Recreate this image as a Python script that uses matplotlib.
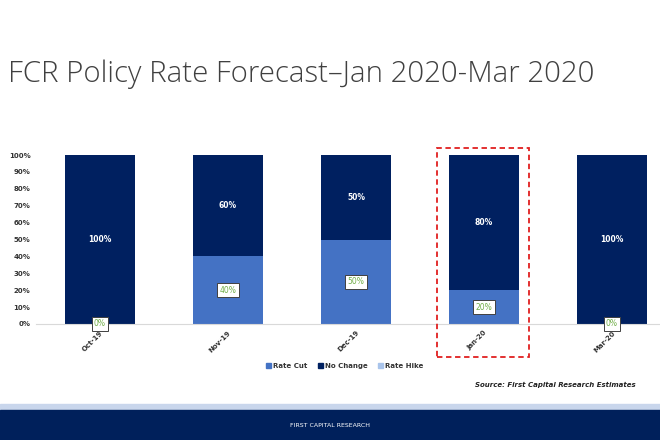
import numpy as np
import matplotlib.pyplot as plt
from matplotlib.patches import Rectangle, Patch

# data
months = ['Oct-19', 'Nov-19', 'Dec-19', 'Jan-20', 'Mar-20']
rate_cut = [0, 40, 50, 20, 0]
no_change = [100, 60, 50, 80, 100]
rate_hike = [0, 0, 0, 0, 0]
highlight = 'Jan-20'

c_cut = '#4472C4'
c_none = '#002060'
c_hike = '#A9C4EB'
navy = '#00205B'

fig = plt.figure(figsize=(6.6, 4.4), dpi=100)
W, H = 660, 440

# axes placed in pixel terms
left, right, top, bottom = 36, 660, 155, 324
ax = fig.add_axes([left / W, 1 - bottom / H, (right - left) / W, (bottom - top) / H])

x = np.arange(len(months))
bw = 0.55
ax.bar(x, rate_cut, bw, color=c_cut)
ax.bar(x, no_change, bw, bottom=rate_cut, color=c_none)
ax.bar(x, rate_hike, bw, bottom=np.add(rate_cut, no_change), color=c_hike)

ax.set_xlim(-0.5, 4.375)
ax.set_ylim(0, 100)
ax.set_yticks(range(0, 101, 10))
ax.set_yticklabels([f'{v}%' for v in range(0, 101, 10)], fontsize=5, fontweight='bold', color='#333333')
ax.set_xticks(x)
ax.set_xticklabels(months, rotation=45, ha='right', rotation_mode='anchor',
                   fontsize=5, fontweight='bold', color='#333333')
ax.tick_params(length=0, pad=4)
for s in ['top', 'right', 'left']:
    ax.spines[s].set_visible(False)
ax.spines['bottom'].set_color('#D9D9D9')
ax.spines['bottom'].set_linewidth(0.8)

# labels
for i in x:
    ax.text(i, rate_cut[i] + no_change[i] / 2, f'{no_change[i]}%', ha='center', va='center',
            fontsize=5.5, fontweight='bold', color='white')
    ax.text(i, rate_cut[i] / 2, f'{rate_cut[i]}%', ha='center', va='center',
            fontsize=5.5, color='#70AD47', clip_on=False,
            bbox=dict(boxstyle='square,pad=0.3', fc='white', ec='#404040', lw=0.7))

# highlight box around Jan-20
hi = months.index(highlight)
ax.add_patch(Rectangle((hi - 0.365, -19.5), 0.72, 123.6, fill=False, ec='#E02020',
                       lw=1.3, ls=(0, (3, 2)), clip_on=False, zorder=5))

# legend
handles = [Patch(color=c_cut, label='Rate Cut'), Patch(color=c_none, label='No Change'),
           Patch(color=c_hike, label='Rate Hike')]
fig.legend(handles=handles, loc='center', bbox_to_anchor=(345 / W, 1 - 366 / H), ncol=3,
           frameon=False, prop=dict(size=5, weight='bold'), handlelength=0.7, handleheight=0.7,
           handletextpad=0.3, columnspacing=1.5, labelcolor='#333333')

# title and source
fig.text(8 / W, 1 - 74 / H, 'FCR Policy Rate Forecast\u2013Jan 2020-Mar 2020',
         fontsize=21.2, family='Open Sans', fontweight='light', color='#404040', va='center')
fig.text(636 / W, 1 - 385 / H, 'Source: First Capital Research Estimates', ha='right', va='center',
         fontsize=5, fontstyle='italic', fontweight='bold', color='#222222')

# footer band
fig.patches.append(Rectangle((0, 0), 1, 1 - 404 / H, transform=fig.transFigure, color='#C9D6EC', zorder=0))
fig.patches.append(Rectangle((0, 0), 1, 1 - 410 / H, transform=fig.transFigure, color=navy, zorder=1))
fig.text(0.5, 1 - 425 / H, 'FIRST CAPITAL RESEARCH', ha='center', va='center', fontsize=4.5, color='white')

fig.savefig('out.png', dpi=100)
